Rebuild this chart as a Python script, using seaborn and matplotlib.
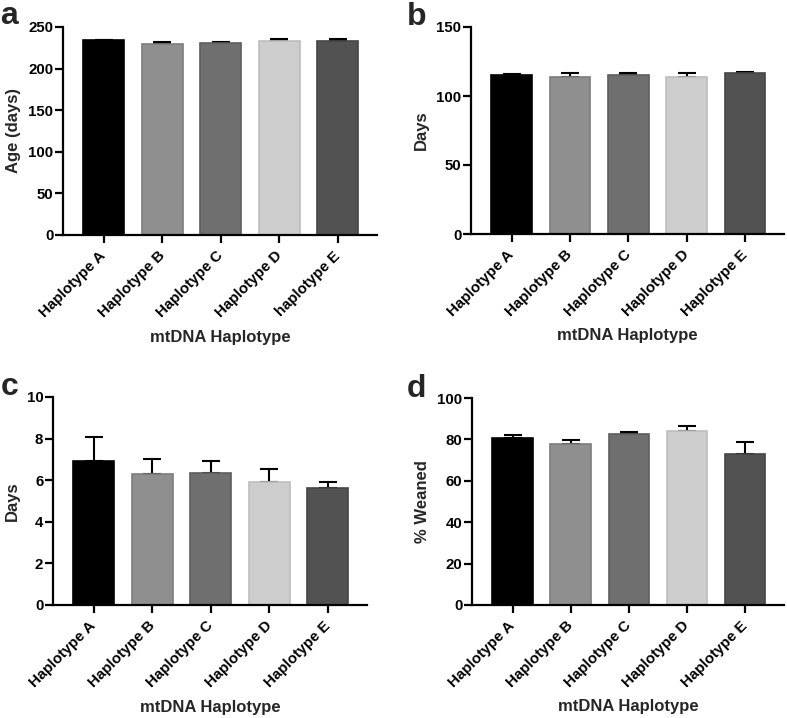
import matplotlib
matplotlib.use("Agg")
import matplotlib.pyplot as plt
import seaborn as sns
import pandas as pd
import numpy as np

# ---- data ----
haplotypes_a = ["Haplotype A", "Haplotype B", "Haplotype C", "Haplotype D", "haplotype E"]
haplotypes = ["Haplotype A", "Haplotype B", "Haplotype C", "Haplotype D", "Haplotype E"]

age_mean = [234, 230, 231, 233, 233]
age_err = [0.8, 2.0, 1.5, 2.5, 2.0]

days_b_mean = [115.5, 114, 115, 114, 117]
days_b_err = [0.5, 2.7, 1.6, 2.7, 0.4]

days_c_mean = [6.93, 6.32, 6.36, 5.92, 5.62]
days_c_err = [1.14, 0.69, 0.54, 0.61, 0.30]

weaned_mean = [80.8, 78.0, 82.4, 84.2, 72.9]
weaned_err = [1.4, 1.8, 1.3, 2.4, 5.8]

bar_colors = ["#000000", "#8f8f8f", "#6f6f6f", "#cdcdcd", "#525252"]
edge_colors = ["#000000", "#7c7c7c", "#5e5e5e", "#bdbdbd", "#454545"]

sns.set_theme(style="ticks")
plt.rcParams["font.family"] = ["Liberation Sans", "DejaVu Sans"]
plt.rcParams["font.weight"] = "bold"
plt.rcParams["axes.labelweight"] = "bold"

W, H = 787, 718
fig = plt.figure(figsize=(W / 100, H / 100), dpi=100)


def px_axes(left, right, bottom, top):
    return fig.add_axes([left / W, 1 - bottom / H, (right - left) / W, (bottom - top) / H])


def panel(ax, cats, means, errs, ylabel, ymax, ystep):
    df = pd.DataFrame({"cat": cats, "val": means})
    sns.barplot(data=df, x="cat", y="val", hue="cat", palette=bar_colors,
                order=cats, hue_order=cats, legend=False, errorbar=None,
                width=0.7, ax=ax, linewidth=1.2)
    for patch, ec in zip(ax.patches, edge_colors):
        patch.set_edgecolor(ec)
    ax.errorbar(np.arange(len(cats)), means, yerr=[np.zeros(len(errs)), errs],
                fmt="none", ecolor="black", elinewidth=1.5, capsize=6.5,
                capthick=1.5, zorder=1)
    for patch in ax.patches:
        patch.set_zorder(2)
    ax.set_xlim(-0.7, 4.67)
    ax.set_ylim(0, ymax)
    ax.set_yticks(np.arange(0, ymax + ystep / 2, ystep))
    ax.set_ylabel(ylabel, fontsize=12, fontweight="bold", labelpad=5)
    ax.set_xlabel("mtDNA Haplotype", fontsize=12, fontweight="bold")
    ax.xaxis.set_label_coords(0.5, -0.455)
    ax.xaxis.label.set_va("top")
    for s in ["top", "right"]:
        ax.spines[s].set_visible(False)
    for s in ["left", "bottom"]:
        ax.spines[s].set_linewidth(1.6)
        ax.spines[s].set_color("black")
    ax.tick_params(axis="both", direction="out", length=5.5, width=1.6,
                   colors="black", labelsize=10.8)
    ax.tick_params(axis="y", pad=1.5)
    ax.tick_params(axis="x", pad=8)
    ax.set_xticks(range(len(cats)))
    ax.set_xticklabels(cats, rotation=45, ha="right", va="center",
                       rotation_mode="anchor", fontweight="bold")
    for t in ax.get_yticklabels():
        t.set_fontweight("bold")
    ax.set_facecolor("white")


ax_a = px_axes(63, 377, 235, 27)
panel(ax_a, haplotypes_a, age_mean, age_err, "Age (days)", 250, 50)

ax_b = px_axes(471, 784, 234, 27)
panel(ax_b, haplotypes, days_b_mean, days_b_err, "Days", 150, 50)

ax_c = px_axes(53, 367, 605, 397)
panel(ax_c, haplotypes, days_c_mean, days_c_err, "Days", 10, 2)

ax_d = px_axes(472, 784, 605, 398)
panel(ax_d, haplotypes, weaned_mean, weaned_err, "% Weaned", 100, 20)

for txt, x, y in [("a", 0, 24), ("b", 407, 25), ("c", 1, 395), ("d", 407, 397)]:
    fig.text(x / W, 1 - y / H, txt, fontsize=23, fontweight="bold",
             ha="left", va="baseline")

fig.savefig("out.png", dpi=100, facecolor="white")
